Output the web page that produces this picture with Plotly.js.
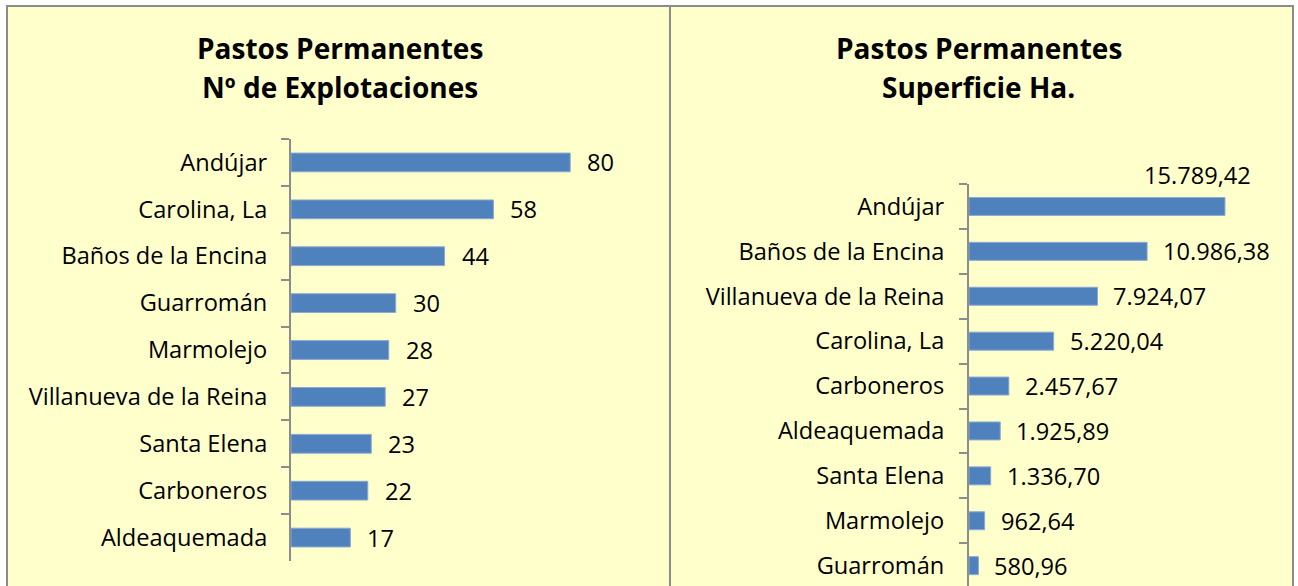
<!DOCTYPE html>
<html><head><meta charset="utf-8">
<script src="https://cdn.plot.ly/plotly-3.0.1.min.js"></script>
<style>html,body{margin:0;padding:0;background:#fff;}#chart{width:1298px;height:586px;}</style>
</head><body><div id="chart"></div>
<script>
// ---- data ----
const explotCategories = ['Andújar','Carolina, La','Baños de la Encina','Guarromán','Marmolejo','Villanueva de la Reina','Santa Elena','Carboneros','Aldeaquemada'];
const explotValues = [80,58,44,30,28,27,23,22,17];
const superfCategories = ['Andújar','Baños de la Encina','Villanueva de la Reina','Carolina, La','Carboneros','Aldeaquemada','Santa Elena','Marmolejo','Guarromán'];
const superfValues = [15789.42,10986.38,7924.07,5220.04,2457.67,1925.89,1336.70,962.64,580.96];
const leftTitleLines = ['Pastos Permanentes','Nº de Explotaciones'];
const rightTitleLines = ['Pastos Permanentes','Superficie Ha.'];

// ---- helpers ----
const W = 1298, H = 586;
const px = x => x / W;
const py = y => 1 - y / H;
function fmtEs(v, dec){
  const parts = v.toFixed(dec).split('.');
  parts[0] = parts[0].replace(/\B(?=(\d{3})+(?!\d))/g, '.');
  return parts.length > 1 ? parts[0] + ',' + parts[1] : parts[0];
}
const FONT = 'Open Sans, Noto Sans, DejaVu Sans, sans-serif';
const BAR = '#4F81BD';
const AXC = '#8c8c8c';

const traces = [
  {type:'bar', orientation:'h', x: explotValues, y: explotCategories, xaxis:'x', yaxis:'y',
   marker:{color:BAR, line:{color:'#8aa8d4', width:1}}, hoverinfo:'none'},
  {type:'bar', orientation:'h', x: superfValues, y: superfCategories, xaxis:'x2', yaxis:'y2',
   marker:{color:BAR, line:{color:'#8aa8d4', width:1}}, hoverinfo:'none'}
];

const annotations = [];
const valFont = {family:FONT, size:23.6, color:'#000'};
explotCategories.forEach((c,i)=>{
  annotations.push({xref:'x', yref:'y', x: explotValues[i], y: c, text: fmtEs(explotValues[i],0),
    showarrow:false, xanchor:'left', yanchor:'middle', xshift:15, font:valFont});
});
superfCategories.forEach((c,i)=>{
  const a = {xref:'x2', yref:'y2', x: superfValues[i], y: c, text: fmtEs(superfValues[i],2),
    showarrow:false, xanchor:'left', yanchor:'middle', xshift:14, font:valFont};
  if (i === 0) { a.xanchor = 'center'; a.xshift = -27; a.yshift = 31; }
  annotations.push(a);
});
const titleFont = {family:FONT, size:28, color:'#000', weight:'bold'};
[[leftTitleLines, 340],[rightTitleLines, 978.5]].forEach(([lines, cx])=>{
  lines.forEach((t,j)=>{
    annotations.push({xref:'paper', yref:'paper', x: px(cx), y: py(j===0?48:87), text:'<b>'+t+'</b>',
      showarrow:false, xanchor:'center', yanchor:'middle', font:titleFont});
  });
});

const yAxisCommon = {type:'category', tickson:'boundaries', ticks:'outside', ticklen:8, tickwidth:2,
  tickcolor:AXC, showline:true, linecolor:AXC, linewidth:2, showgrid:false, zeroline:false,
  ticklabelstandoff:17,
  tickfont:{family:FONT, size:23.6, color:'#000'}, fixedrange:true};

const layout = {
  width: W, height: H,
  margin:{l:0,r:0,t:0,b:0},
  paper_bgcolor:'#ffffff', plot_bgcolor:'rgba(0,0,0,0)',
  showlegend:false, bargap:0.6,
  xaxis:{domain:[px(291), px(640)], range:[0,100], visible:false, fixedrange:true},
  yaxis:Object.assign({}, yAxisCommon, {domain:[py(561), py(139)], range:[8.5,-0.5], anchor:'x'}),
  xaxis2:{domain:[px(969), px(969+291.8)], range:[0,18000], visible:false, fixedrange:true, anchor:'y2'},
  yaxis2:Object.assign({}, yAxisCommon, {domain:[0, py(184)], range:[8.453,-0.5], anchor:'x2', ticklabelstandoff:18}),
  shapes:[
    {type:'rect', xref:'paper', yref:'paper', x0:px(7), x1:px(670), y0:-0.1, y1:py(6),
     fillcolor:'#FFFFCC', line:{color:AXC, width:2}, layer:'below'},
    {type:'rect', xref:'paper', yref:'paper', x0:px(670), x1:px(1293), y0:-0.1, y1:py(6),
     fillcolor:'#FFFFCC', line:{color:AXC, width:2}, layer:'below'}
  ],
  annotations: annotations
};
Plotly.newPlot('chart', traces, layout, {staticPlot:true, displayModeBar:false});
</script></body></html>
